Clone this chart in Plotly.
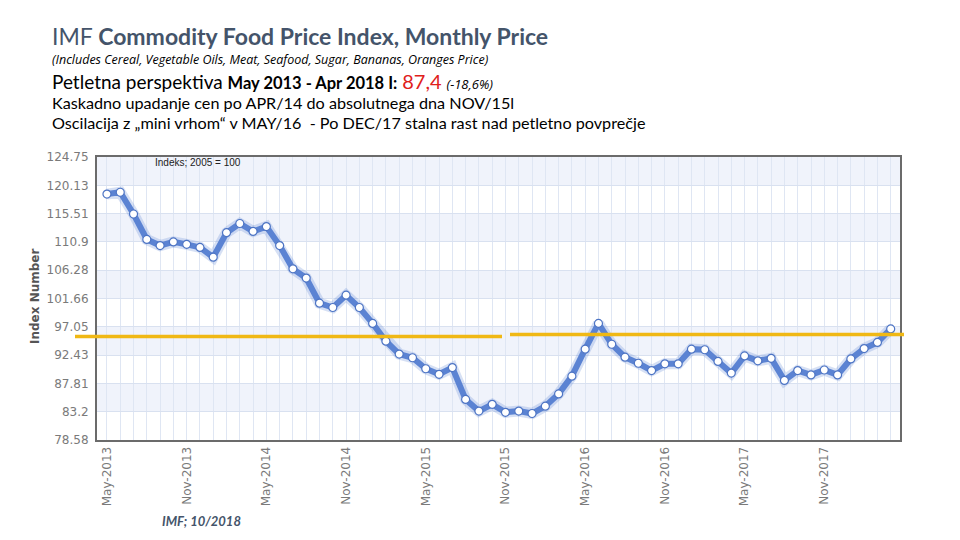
import pandas as pd
import plotly.graph_objects as go

# ---------------- data ----------------
months = pd.date_range("2013-05-01", periods=60, freq="MS").strftime("%b-%Y").tolist()
index_values = [
    118.7, 119.0, 115.45, 111.3, 110.3, 110.9, 110.5, 110.0, 108.4, 112.4,
    113.9, 112.6, 113.4, 110.3, 106.5, 105.0, 100.9, 100.2, 102.2, 100.2,
    97.6, 94.7, 92.6, 92.0, 90.2, 89.3, 90.4, 85.2, 83.3, 84.4,
    83.1, 83.3, 82.9, 84.1, 86.1, 89.0, 93.4, 97.6, 94.2, 92.1,
    91.1, 89.9, 91.0, 91.0, 93.4, 93.3, 91.4, 89.5, 92.3, 91.5,
    91.9, 88.3, 89.9, 89.2, 90.0, 89.2, 91.8, 93.5, 94.5, 96.7,
]
y_ticks = [78.58, 83.2, 87.81, 92.43, 97.05, 101.66, 106.28, 110.9, 115.51, 120.13, 124.75]
y_tick_text = ["78.58", "83.2", "87.81", "92.43", "97.05", "101.66", "106.28", "110.9", "115.51", "120.13", "124.75"]
avg_levels = [95.46, 95.79]   # five-year average reference line (two drawn segments)

# ---------------- geometry helpers ----------------
W, H = 960, 540
PL, PR, PT, PB = 97, 900, 157, 440


def px(xp):
    return (xp - PL) / (PR - PL)


def py(yp):
    return (PB - yp) / (PB - PT)


xs = list(range(len(months)))
tick_text = [m if i % 6 == 0 else "" for i, m in enumerate(months)]

fig = go.Figure()

# alternating bands
for k in range(1, len(y_ticks) - 1, 2):
    fig.add_shape(type="rect", xref="paper", yref="y", x0=0, x1=1,
                  y0=y_ticks[k], y1=y_ticks[k + 1],
                  fillcolor="#f0f3fb", line_width=0, layer="below")

# glow
fig.add_trace(go.Scatter(x=xs, y=index_values, mode="lines",
                         line=dict(color="rgba(90,130,210,0.25)", width=11),
                         hoverinfo="skip", showlegend=False))
fig.add_trace(go.Scatter(x=xs, y=index_values, mode="lines+markers",
                         line=dict(color="#5b83d3", width=6),
                         marker=dict(size=8, color="white",
                                     line=dict(color="#4d74c4", width=1.2)),
                         showlegend=False))

# average line segments
fig.add_shape(type="line", xref="paper", yref="y", x0=px(75), x1=px(502),
              y0=avg_levels[0], y1=avg_levels[0],
              line=dict(color="#f0b814", width=3.5))
fig.add_shape(type="line", xref="paper", yref="y", x0=px(510), x1=px(904),
              y0=avg_levels[1], y1=avg_levels[1],
              line=dict(color="#f0b814", width=3.5))

fig.update_xaxes(range=[-0.75, 59.7], tickvals=xs, ticktext=tick_text,
                 tickangle=-90, showgrid=True, gridcolor="#dfe6f3", gridwidth=1,
                 showline=True, linecolor="#6b6b6b", linewidth=2, mirror=True,
                 ticks="", zeroline=False,
                 tickfont=dict(family="DejaVu Sans", size=12, color="#7a7a7a"))
fig.update_yaxes(range=[78.58, 124.75], tickvals=y_ticks, ticktext=y_tick_text,
                 showgrid=True, gridcolor="#d9e1f0", gridwidth=1,
                 showline=True, linecolor="#6b6b6b", linewidth=2, mirror=True,
                 ticks="", zeroline=False, ticklabelstandoff=4,
                 tickfont=dict(family="DejaVu Sans", size=12, color="#7a7a7a"))

ann = []


def A(text, x, y, size, color="#000000", family="Lato", xanchor="left", yanchor="middle", angle=0):
    ann.append(dict(text=text, x=px(x), y=py(y), xref="paper", yref="paper",
                    xanchor=xanchor, yanchor=yanchor, showarrow=False, textangle=angle,
                    font=dict(family=family, size=size, color=color)))


A("IMF <b>Commodity Food Price Index, Monthly Price</b>", 50, 36, 23, color="#44546a")
A("<i>(Includes Cereal, Vegetable Oils, Meat, Seafood, Sugar, Bananas, Oranges Price)</i>",
  50, 59.5, 12.5, family="Open Sans")
A("Petletna perspektiva <span style='font-size:16.5px'><b>May 2013 - Apr 2018 I:</b></span> "
  "<span style='color:#e0201b;font-size:20px'>87,4</span> "
  "<span style='font-size:13px;font-family:Open Sans'><i>(-18,6%)</i></span>",
  50, 81, 19)
A("Kaskadno upadanje cen po APR/14 do absolutnega dna NOV/15l", 50, 102.5, 16.2)
A("Oscilacija z „mini vrhom“ v MAY/16  - Po DEC/17 stalna rast nad petletno povprečje", 50, 122, 16.2)
A("Indeks; 2005 = 100", 153, 162, 10, color="#222222", family="Liberation Sans")
A("<b>Index Number</b>", 35, 297, 12, color="#555555", family="DejaVu Sans", xanchor="center", angle=-90)
A("<b><i>IMF; 10/2018</i></b>", 160, 521, 13, color="#44546a")

fig.update_layout(width=W, height=H, margin=dict(l=PL, r=W - PR, t=PT, b=H - PB),
                  paper_bgcolor="white", plot_bgcolor="white",
                  annotations=ann, showlegend=False)

fig.write_html("out.html")
